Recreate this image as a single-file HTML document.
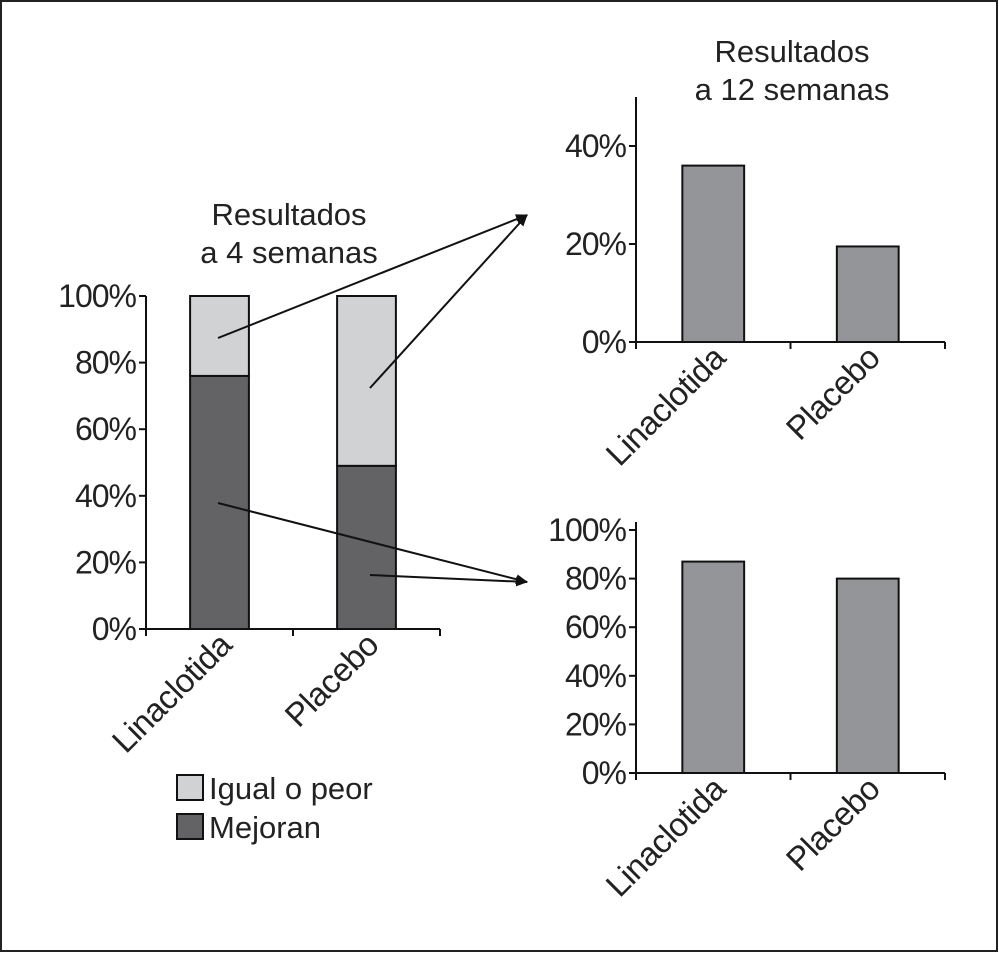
<!DOCTYPE html>
<html><head><meta charset="utf-8"><style>
html,body{margin:0;padding:0;background:#fff}
svg{display:block;font-family:"Liberation Sans",Arial,sans-serif}
</style></head><body>
<svg id="c" width="999" height="953" viewBox="0 0 999 953">
<rect x="1" y="1" width="996" height="950" fill="#fff" stroke="#222" stroke-width="2"/>
<defs><marker id="ah" markerWidth="12" markerHeight="10" refX="11" refY="5" orient="auto" markerUnits="userSpaceOnUse"><path d="M0,0 L12,5 L0,10 Z" fill="#111"/></marker></defs>
</svg>
<script>
const categories=["Linaclotida","Placebo"];
const mejoran4=[76,49];
const resto4=[24,51];
const res12=[36,19.5];
const mejoran12=[87,80];
const ticks4=[0,20,40,60,80,100];
const ticks12a=[0,20,40];
const ticks12b=[0,20,40,60,80,100];
const NS="http://www.w3.org/2000/svg";
const svg=document.getElementById('c');
function mk(t,a,p){const e=document.createElementNS(NS,t);for(const k in a)e.setAttribute(k,a[k]);(p||svg).appendChild(e);return e;}
function chart(o){
  const y=v=>o.y0-(v/o.max)*(o.y0-o.ytop);
  const g=mk('g',{});
  
  
  const ax=mk('line',{x1:o.x0,y1:o.axTop,x2:o.x0,y2:o.y0,stroke:'#111','stroke-width':2},g);
  
  const xa=mk('line',{x1:o.x0-6,y1:o.y0,x2:o.x1,y2:o.y0,stroke:'#111','stroke-width':2},g);
  
  o.ticks.forEach(t=>{
    mk('line',{x1:o.x0-7,y1:y(t),x2:o.x0,y2:y(t),stroke:'#111','stroke-width':2},g);
    const tx=mk('text',{x:o.x0-10,y:y(t)+11,'text-anchor':'end','font-size':32,'letter-spacing':-1,fill:'#222'},g);
    tx.textContent=t+'%';
    
    
  });
  const bw=(o.x1-o.x0)/categories.length;
  for(let i=0;i<=categories.length;i++){
    mk('line',{x1:o.x0+bw*i,y1:o.y0,x2:o.x0+bw*i,y2:o.y0+7,stroke:'#111','stroke-width':2},g);
  }
  categories.forEach((c,i)=>{
    const cx=o.x0+bw*(i+0.5), w=bw*0.4;
    let base=0;
    o.series.forEach(s=>{
      const v=s.vals[i];
      const r=mk('rect',{x:cx-w/2,y:y(base+v),width:w,height:y(base)-y(base+v),fill:s.color,stroke:'#111','stroke-width':2},g);
      
      
      base+=v;
    });
    const lx=cx+14, ly=o.y0+18;
    const t=mk('text',{x:lx,y:ly,'text-anchor':'end','font-size':33,'letter-spacing':-0.5,fill:'#222',transform:`rotate(-45 ${lx} ${ly})`},g);
    t.textContent=c;
    
    
  });
  o.title.forEach((l,k)=>{
    const t=mk('text',{x:o.tx,y:o.ty+k*38,'text-anchor':'middle','font-size':31,fill:'#222'},g);
    t.textContent=l;
    
    
  });
}
chart({name:'chart-4-weeks',x0:146,x1:440,y0:629,ytop:296,axTop:296,max:100,ticks:ticks4,
  series:[{key:'mejoran',vals:mejoran4,color:'#636366'},{key:'igual',vals:resto4,color:'#d1d2d4'}],
  title:['Resultados','a 4 semanas'],tx:289,ty:225});
chart({name:'chart-12-weeks-top',x0:636,x1:945,y0:342,ytop:146,axTop:97,max:40,ticks:ticks12a,
  series:[{key:'resultado',vals:res12,color:'#939598'}],title:['Resultados','a 12 semanas'],tx:792,ty:62});
chart({name:'chart-12-weeks-bottom',x0:636,x1:945,y0:773,ytop:530,axTop:522,max:100,ticks:ticks12b,
  series:[{key:'mejoran',vals:mejoran12,color:'#939598'}],title:[],tx:0,ty:0});
[[218,338,527,215],[370,388,527,215],[218,503,527,582],[370,575,527,582]].forEach(a=>{
  const l=mk('line',{x1:a[0],y1:a[1],x2:a[2],y2:a[3],stroke:'#111','stroke-width':2,'marker-end':'url(#ah)'});
  
  
});
[['Igual o peor','#d1d2d4',775],['Mejoran','#636366',814]].forEach(d=>{
  const r=mk('rect',{x:177,y:d[2],width:26,height:25,fill:d[1],stroke:'#111','stroke-width':2});
  
  
  const t=mk('text',{x:209,y:d[2]+24,'font-size':31,fill:'#222'});
  t.textContent=d[0];
  
  
});
</script>
</body></html>
